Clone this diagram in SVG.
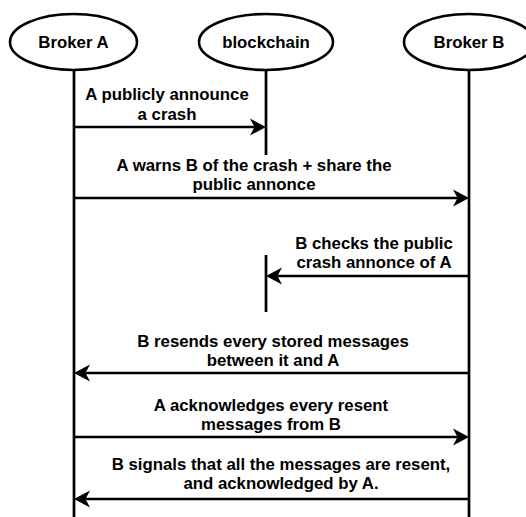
<svg xmlns="http://www.w3.org/2000/svg" width="526" height="517" viewBox="0 0 526 517">
<style>
.node ellipse{fill:#fff;stroke:#000;stroke-width:2.6}
.lbl{font-family:"Liberation Sans",Arial,Helvetica,sans-serif;font-weight:bold;font-size:16.8px;fill:#000;text-anchor:middle}
.life{stroke:#000;stroke-width:2.7;fill:none}
.msg{stroke:#000;stroke-width:2.6;fill:none;marker-end:url(#arr)}
</style>
<defs>
<marker id="arr" markerUnits="userSpaceOnUse" markerWidth="16" markerHeight="17" viewBox="0 0 16 17" refX="4.5" refY="8.5" orient="auto" overflow="visible">
<path d="M16,8.5 L0,0 L4.5,8.5 L0,17 Z" fill="#000"/>
</marker>
</defs>
<g id="lifelines">
<line class="life" x1="74" y1="70" x2="74" y2="517"/>
<line class="life" x1="266" y1="70" x2="266" y2="155"/>
<line class="life" x1="266" y1="255" x2="266" y2="312"/>
<line class="life" x1="469" y1="70" x2="469" y2="517"/>
</g>
<g id="brokerA" class="node"><ellipse cx="73.5" cy="42" rx="63.5" ry="28"/><text class="lbl" x="73.5" y="48">Broker A</text></g>
<g id="blockchain" class="node"><ellipse cx="266" cy="42" rx="67" ry="28"/><text class="lbl" x="266" y="48">blockchain</text></g>
<g id="brokerB" class="node"><ellipse cx="469" cy="42" rx="65" ry="28"/><text class="lbl" x="469" y="48">Broker B</text></g>
<g id="connectors">
<line class="msg" x1="74" y1="127" x2="254.5" y2="127"/>
<text class="lbl" x="167" y="100">A publicly announce</text>
<text class="lbl" x="167" y="119.5">a crash</text>
<line class="msg" x1="74" y1="198" x2="457.5" y2="198"/>
<text class="lbl" x="254" y="171">A warns B of the crash + share the</text>
<text class="lbl" x="254" y="190">public annonce</text>
<line class="msg" x1="469" y1="276" x2="277.5" y2="276"/>
<text class="lbl" x="374" y="249">B checks the public</text>
<text class="lbl" x="374" y="268">crash annonce of A</text>
<line class="msg" x1="469" y1="373" x2="85.5" y2="373"/>
<text class="lbl" x="273" y="347">B resends every stored messages</text>
<text class="lbl" x="273" y="366">between it and A</text>
<line class="msg" x1="74" y1="437" x2="457.5" y2="437"/>
<text class="lbl" x="271" y="411">A acknowledges every resent</text>
<text class="lbl" x="271" y="430">messages from B</text>
<line class="msg" x1="469" y1="499" x2="85.5" y2="499"/>
<text class="lbl" x="281" y="470">B signals that all the messages are resent,</text>
<text class="lbl" x="281" y="489">and acknowledged by A.</text>
</g>
</svg>
